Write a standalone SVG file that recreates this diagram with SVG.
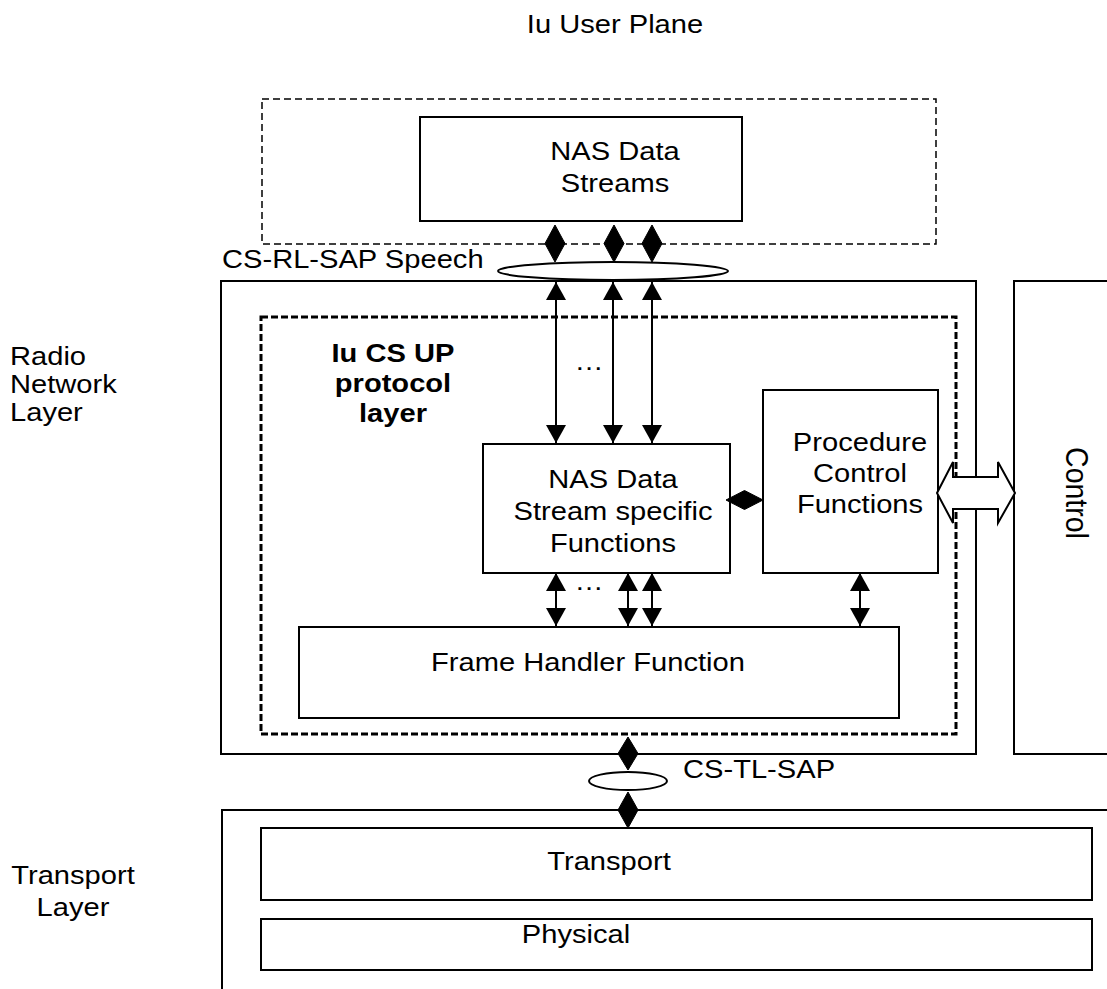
<svg xmlns="http://www.w3.org/2000/svg" width="1107" height="989" viewBox="0 0 1107 989">
<defs>
<style>
.box{fill:#fff;stroke:#000;stroke-width:2}
.dash1{fill:none;stroke:#000;stroke-width:1.5;stroke-dasharray:7 4}
.dash2{fill:none;stroke:#000;stroke-width:3;stroke-dasharray:7 3}
.t{font-family:"Liberation Sans",Arial,sans-serif;font-size:26px;fill:#000}
.b{font-weight:bold}
.ln{stroke:#000;stroke-width:2;fill:none}
.dm{fill:#000;stroke:#000;stroke-width:1}
</style>
<marker id="ah" viewBox="0 0 18 20" refX="18" refY="10" markerWidth="18" markerHeight="20" markerUnits="userSpaceOnUse" orient="auto-start-reverse">
<path d="M0,0 L18,10 L0,20 z" fill="#000"/>
</marker>
</defs>
<rect width="1107" height="989" fill="#fff"/>

<text class="t" text-anchor="middle" transform="translate(615,33) scale(1.12,1)">Iu User Plane</text>

<g id="nas-upper">
<rect class="dash1" x="262" y="99" width="674" height="145"/>
<rect class="box" x="420" y="117" width="322" height="104"/>
<text class="t" text-anchor="middle" transform="translate(615,160) scale(1.12,1)">NAS Data</text>
<text class="t" text-anchor="middle" transform="translate(615,192) scale(1.12,1)">Streams</text>
</g>

<g id="rnl">
<rect class="box" x="221" y="281" width="755" height="473"/>
<text class="t" transform="translate(10,365) scale(1.12,1)">Radio</text>
<text class="t" transform="translate(10,393) scale(1.12,1)">Network</text>
<text class="t" transform="translate(10,421) scale(1.12,1)">Layer</text>
</g>

<g id="iu-cs-up">
<rect class="dash2" x="261" y="317" width="695" height="417"/>
<text class="t b" text-anchor="middle" transform="translate(393,362) scale(1.12,1)">Iu CS UP</text>
<text class="t b" text-anchor="middle" transform="translate(393,392) scale(1.12,1)">protocol</text>
<text class="t b" text-anchor="middle" transform="translate(393,422) scale(1.12,1)">layer</text>
</g>

<g id="control">
<rect class="box" x="1014" y="281" width="110" height="473"/>
<text class="t" text-anchor="middle" style="font-size:28.5px" transform="translate(1066,493) rotate(90) scale(1,1.1)">Control</text>
</g>

<g id="dssf">
<rect class="box" x="483" y="444" width="247" height="129"/>
<text class="t" text-anchor="middle" transform="translate(613,488) scale(1.12,1)">NAS Data</text>
<text class="t" text-anchor="middle" transform="translate(613,520) scale(1.12,1)">Stream specific</text>
<text class="t" text-anchor="middle" transform="translate(613,552) scale(1.12,1)">Functions</text>
</g>

<g id="pcf">
<rect class="box" x="763" y="390" width="175" height="183"/>
<text class="t" text-anchor="middle" transform="translate(860,451) scale(1.12,1)">Procedure</text>
<text class="t" text-anchor="middle" transform="translate(860,482) scale(1.12,1)">Control</text>
<text class="t" text-anchor="middle" transform="translate(860,513) scale(1.12,1)">Functions</text>
</g>

<g id="fhf">
<rect class="box" x="299" y="627" width="600" height="91"/>
<text class="t" text-anchor="middle" transform="translate(588,671) scale(1.12,1)">Frame Handler Function</text>
</g>

<g id="transport-layer">
<rect class="box" x="222" y="810" width="900" height="200"/>
<text class="t" text-anchor="middle" transform="translate(73,884) scale(1.12,1)">Transport</text>
<text class="t" text-anchor="middle" transform="translate(73,916) scale(1.12,1)">Layer</text>
</g>

<g id="transport">
<rect class="box" x="261" y="828" width="831" height="72"/>
<text class="t" text-anchor="middle" transform="translate(609,870) scale(1.12,1)">Transport</text>
</g>

<g id="physical">
<rect class="box" x="261" y="919" width="831" height="51"/>
<text class="t" text-anchor="middle" transform="translate(576,943) scale(1.12,1)">Physical</text>
</g>

<g id="connectors">
<polygon class="dm" points="555,225 565,243.5 555,262 545,243.5"/>
<polygon class="dm" points="614,225 624,243.5 614,262 604,243.5"/>
<polygon class="dm" points="652,225 662,243.5 652,262 642,243.5"/>
<ellipse cx="613" cy="271" rx="115" ry="9" fill="#fff" stroke="#000" stroke-width="2"/>
<text class="t" transform="translate(222,268) scale(1.12,1)">CS-RL-SAP Speech</text>
<line class="ln" x1="556" y1="282" x2="556" y2="443" marker-start="url(#ah)" marker-end="url(#ah)"/>
<line class="ln" x1="613" y1="282" x2="613" y2="443" marker-start="url(#ah)" marker-end="url(#ah)"/>
<line class="ln" x1="652" y1="282" x2="652" y2="443" marker-start="url(#ah)" marker-end="url(#ah)"/>
<text class="t" text-anchor="middle" transform="translate(589,370) scale(1.12,1)">…</text>
<polygon class="dm" points="726,500 744.5,490.5 763,500 744.5,509.5"/>
<polygon points="937,493 953,462 953,477 998,477 998,462 1015,493 998,523 998,509 953,509 953,523" fill="#fff" stroke="#000" stroke-width="2"/>
<line class="ln" x1="556" y1="573" x2="556" y2="626" marker-start="url(#ah)" marker-end="url(#ah)"/>
<line class="ln" x1="628" y1="573" x2="628" y2="626" marker-start="url(#ah)" marker-end="url(#ah)"/>
<line class="ln" x1="652" y1="573" x2="652" y2="626" marker-start="url(#ah)" marker-end="url(#ah)"/>
<line class="ln" x1="860" y1="573" x2="860" y2="626" marker-start="url(#ah)" marker-end="url(#ah)"/>
<text class="t" text-anchor="middle" transform="translate(589,590) scale(1.12,1)">…</text>
<polygon class="dm" points="628,737 638,753.5 628,770 618,753.5"/>
<ellipse cx="628" cy="781" rx="39" ry="9" fill="#fff" stroke="#000" stroke-width="2"/>
<polygon class="dm" points="628,792 638,810 628,828 618,810"/>
<text class="t" transform="translate(683,778) scale(1.12,1)">CS-TL-SAP</text>
</g>
</svg>
